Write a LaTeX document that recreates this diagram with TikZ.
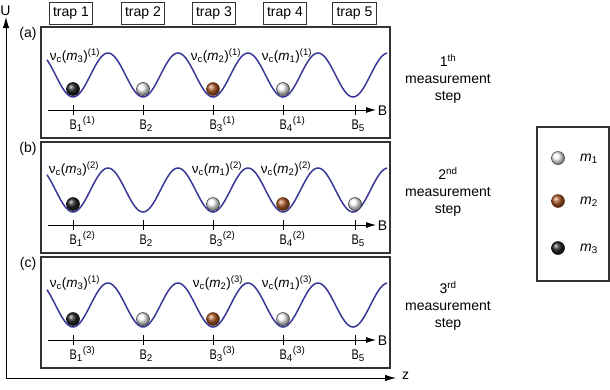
\documentclass[tikz,border=0pt]{standalone}
\usepackage{fontspec}
\setmainfont{Liberation Sans}
\usetikzlibrary{arrows.meta}
\definecolor{wavecol}{RGB}{55,55,150}
\definecolor{brownball}{RGB}{170,90,40}
\definecolor{boxgray}{RGB}{50,50,50}
\tikzset{
  panelbox/.style={draw=boxgray, line width=1.2pt, minimum width=349pt, minimum height=111pt, inner sep=0pt},
  legendbox/.style={draw=boxgray, line width=1.2pt, minimum width=72pt, minimum height=154pt, inner sep=0pt},
  trapbox/.style={draw=boxgray, line width=0.9pt, minimum height=22pt, inner xsep=4pt, inner ysep=0pt, font=\fontsize{14}{16}\selectfont},
  wavecurve/.style={draw=wavecol, line width=1.5pt},
  baxis/.style={line width=0.9pt, -{Latex[length=10pt,width=6pt]}},
  mainaxis/.style={line width=0.9pt, -{Latex[length=11pt,width=6.5pt]}},
  tickmark/.style={line width=0.9pt},
  nulabel/.style={font=\fontsize{13.5}{15}\selectfont, inner sep=0pt},
  blabel/.style={font=\fontsize{14}{16}\selectfont, inner sep=0pt, anchor=base west},
  plainlabel/.style={font=\fontsize{14}{16}\selectfont, inner sep=0pt},
  steptext/.style={font=\fontsize{14}{17}\selectfont, align=center, inner sep=0pt},
  ballbase/.style={circle, inner sep=0pt, minimum size=13pt, shading=ball, line width=0.5pt},
  ballw/.style={ballbase, ball color=white, draw=gray!40!black},
  ballbr/.style={ballbase, ball color=brownball, draw=brownball!60!black},
  ballk/.style={ballbase, ball color=black!85, draw=black},
}
\newcommand{\Blab}[2]{\scalebox{0.78}[1]{B}\textsubscript{#1}\textsuperscript{#2}}
\newcommand{\nulab}[2]{ν\textsubscript{c}(\textit{m}\textsubscript{#1})\textsuperscript{(#2)}}
\newcommand{\panelbase}[3]{%
  \node[panelbox] (#1box) at (215.5,55.5) {};
  \node[plainlabel] (#1tag) at (28,7) {#3};
  \draw[wavecurve] plot[domain=47:387, samples=200, smooth] (\x, {48+22*cos((\x-73)/70*360)});
  \coordinate (#1ax0) at (48,83);
  \coordinate (#1ax1) at (376,83);
  \draw[baxis] (#1ax0) -- (#1ax1);
  \node[plainlabel] (#1B) at (382.5,84) {B};
  \foreach \xx [count=\i] in {73,143,213,283,355} {
    \coordinate (#1ta\i) at (\xx,78);
    \coordinate (#1tb\i) at (\xx,88);
    \draw[tickmark] (#1ta\i) -- (#1tb\i);
  }
}
\begin{document}
\begin{tikzpicture}[x=1pt, y=-1pt]
\useasboundingbox (0,0) rectangle (610,389);
% main axes
\coordinate (origin) at (6,378);
\coordinate (utop) at (6,17);
\coordinate (zend) at (396,378);
\draw[mainaxis] (origin) -- (utop);
\draw[mainaxis] (origin) -- (zend);
\node[plainlabel] (ulab) at (5.5,11) {U};
\node[plainlabel] (zlab) at (405.5,376) {z};
% trap boxes
\foreach \xx [count=\i] in {71,143,214,285,354.5} {
  \node[trapbox] (trap\i) at (\xx,13) {trap \i};
}
% panel (a)
\begin{scope}[shift={(0,27)}]
  \panelbase{a}{1}{(a)}
  \node[ballk]  (a1) at (73,62) {};
  \node[ballw]  (a2) at (143,62) {};
  \node[ballbr] (a3) at (213,62) {};
  \node[ballw]  (a4) at (283,62) {};
  \node[nulabel] (anu1) at (75,29) {\nulab{3}{1}};
  \node[nulabel] (anu3) at (216,29) {\nulab{2}{1}};
  \node[nulabel] (anu4) at (287,29) {\nulab{1}{1}};
  \node[blabel] (abl1) at (69.5,102) {\Blab{1}{(1)}};
  \node[blabel] (abl2) at (139.5,102) {\Blab{2}{}};
  \node[blabel] (abl3) at (209.5,102) {\Blab{3}{(1)}};
  \node[blabel] (abl4) at (279.5,102) {\Blab{4}{(1)}};
  \node[blabel] (abl5) at (351.5,102) {\Blab{5}{}};
  \node[steptext] (astep) at (448,52) {1\textsuperscript{th}\\measurement\\step};
\end{scope}
% panel (b)
\begin{scope}[shift={(0,142)}]
  \panelbase{b}{2}{(b)}
  \node[ballk]  (b1) at (73,62) {};
  \node[ballw]  (b3) at (213,62) {};
  \node[ballbr] (b4) at (283,62) {};
  \node[ballw]  (b5) at (355,62) {};
  \node[nulabel] (bnu1) at (74,27) {\nulab{3}{2}};
  \node[nulabel] (bnu3) at (217,27) {\nulab{1}{2}};
  \node[nulabel] (bnu4) at (286,27) {\nulab{2}{2}};
  \node[blabel] (bbl1) at (69.5,102) {\Blab{1}{(2)}};
  \node[blabel] (bbl2) at (139.5,102) {\Blab{2}{}};
  \node[blabel] (bbl3) at (209.5,102) {\Blab{3}{(2)}};
  \node[blabel] (bbl4) at (279.5,102) {\Blab{4}{(2)}};
  \node[blabel] (bbl5) at (351.5,102) {\Blab{5}{}};
  \node[steptext] (bstep) at (448,50) {2\textsuperscript{nd}\\measurement\\step};
\end{scope}
% panel (c)
\begin{scope}[shift={(0,257)}]
  \panelbase{c}{3}{(c)}
  \node[ballk]  (c1) at (73,62) {};
  \node[ballw]  (c2) at (143,62) {};
  \node[ballbr] (c3) at (213,62) {};
  \node[ballw]  (c4) at (283,62) {};
  \node[nulabel] (cnu1) at (75,26) {\nulab{3}{1}};
  \node[nulabel] (cnu3) at (218,26) {\nulab{2}{3}};
  \node[nulabel] (cnu4) at (287,26) {\nulab{1}{3}};
  \node[blabel] (cbl1) at (69.5,102) {\Blab{1}{(3)}};
  \node[blabel] (cbl2) at (139.5,102) {\Blab{2}{}};
  \node[blabel] (cbl3) at (209.5,102) {\Blab{3}{(3)}};
  \node[blabel] (cbl4) at (279.5,102) {\Blab{4}{(3)}};
  \node[blabel] (cbl5) at (351.5,102) {\Blab{5}{}};
  \node[steptext] (cstep) at (448,49) {3\textsuperscript{rd}\\measurement\\step};
\end{scope}
% legend
\node[legendbox] (legend) at (573,204) {};
\node[ballw]  (lg1) at (558,158) {};
\node[ballbr] (lg2) at (558,201) {};
\node[ballk]  (lg3) at (558,248) {};
\node[plainlabel, anchor=west] (lgt1) at (580,159) {\textit{m}\textsubscript{1}};
\node[plainlabel, anchor=west] (lgt2) at (580,202) {\textit{m}\textsubscript{2}};
\node[plainlabel, anchor=west] (lgt3) at (580,249) {\textit{m}\textsubscript{3}};
\end{tikzpicture}
\end{document}
